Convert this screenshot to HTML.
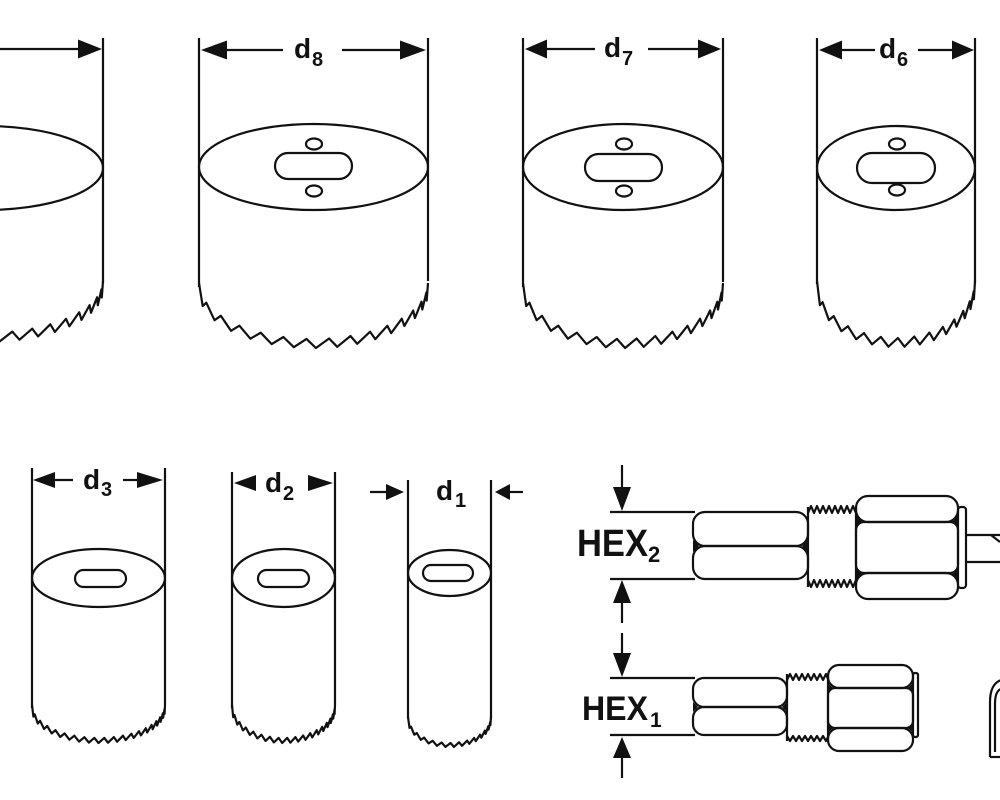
<!DOCTYPE html>
<html><head><meta charset="utf-8"><style>
html,body{margin:0;padding:0;background:#fff;}
svg{display:block;}
text{font-family:"Liberation Sans",sans-serif;font-weight:bold;fill:#111;}
</style></head><body>
<svg id="s" width="1000" height="800" viewBox="0 0 1000 800" xmlns="http://www.w3.org/2000/svg">
<rect width="1000" height="800" fill="#fff"/>
<g stroke="#111" stroke-width="2.2" fill="none" stroke-linejoin="round">
<!-- d9 partial -->
<line x1="103" y1="38" x2="103" y2="283"/>
<ellipse cx="-15" cy="168" rx="118" ry="42"/>
<line x1="0" y1="49" x2="80" y2="49"/>
<!-- d8 -->
<line x1="199" y1="38" x2="199" y2="287"/>
<line x1="428" y1="38" x2="428" y2="281"/>
<ellipse cx="313.5" cy="167" rx="114.5" ry="43"/>
<rect x="275" y="153" width="77" height="26" rx="13"/>
<ellipse cx="314" cy="144" rx="8" ry="5.5"/>
<ellipse cx="314" cy="191" rx="8" ry="5.5"/>
<line x1="226" y1="50" x2="283" y2="50"/>
<line x1="342" y1="50" x2="401" y2="50"/>
<!-- d7 -->
<line x1="523" y1="38" x2="523" y2="287"/>
<line x1="723" y1="38" x2="723" y2="282"/>
<ellipse cx="623" cy="167" rx="100" ry="43"/>
<rect x="585" y="154" width="77" height="27" rx="13.5"/>
<ellipse cx="624" cy="144" rx="8" ry="5.5"/>
<ellipse cx="624" cy="191" rx="8" ry="5.5"/>
<line x1="546" y1="49" x2="595" y2="49"/>
<line x1="648" y1="49" x2="699" y2="49"/>
<!-- d6 -->
<line x1="817" y1="38" x2="817" y2="284"/>
<line x1="975" y1="38" x2="975" y2="283"/>
<ellipse cx="896" cy="168" rx="79" ry="42"/>
<rect x="857" y="153" width="78" height="30" rx="15"/>
<ellipse cx="897" cy="144" rx="8" ry="5.5"/>
<ellipse cx="897" cy="190" rx="8" ry="5.5"/>
<line x1="841" y1="50" x2="875" y2="50"/>
<line x1="918" y1="50" x2="953" y2="50"/>
<!-- d3 -->
<line x1="32" y1="468" x2="32" y2="708"/>
<line x1="165" y1="468" x2="165" y2="705"/>
<ellipse cx="98.5" cy="578" rx="66.5" ry="29"/>
<rect x="75" y="570" width="51" height="17" rx="8.5"/>
<line x1="54" y1="480" x2="73" y2="480"/>
<line x1="123" y1="480" x2="138" y2="480"/>
<!-- d2 -->
<line x1="232" y1="472" x2="232" y2="708"/>
<line x1="335" y1="472" x2="335" y2="705"/>
<ellipse cx="283.5" cy="578" rx="51.5" ry="29"/>
<rect x="258" y="570" width="51" height="17" rx="8.5"/>
<!-- d1 -->
<line x1="408" y1="480" x2="408" y2="718"/>
<line x1="491" y1="480" x2="491" y2="718"/>
<ellipse cx="449.5" cy="573" rx="41.5" ry="23"/>
<rect x="423" y="565" width="50" height="16" rx="8"/>
<line x1="370" y1="492" x2="387" y2="492"/>
<line x1="509" y1="492" x2="523" y2="492"/>

<!-- teeth -->
<path id="t9"/><path id="t8"/><path id="t7"/><path id="t6"/><path id="t3"/><path id="t2"/><path id="t1"/>

<!-- HEX extension lines -->
<line x1="610" y1="512" x2="695" y2="512"/>
<line x1="610" y1="579" x2="695" y2="579"/>
<line x1="610" y1="678" x2="695" y2="678"/>
<line x1="610" y1="735" x2="695" y2="735"/>
<!-- HEX arrows lines -->
<line x1="622" y1="465" x2="622" y2="489"/>
<line x1="622" y1="601" x2="622" y2="623"/>
<line x1="622" y1="633" x2="622" y2="655"/>
<line x1="622" y1="756" x2="622" y2="778"/>

<!-- HEX2 bit -->
<rect x="693" y="512" width="115" height="34" rx="12"/>
<rect x="693" y="546" width="115" height="33" rx="12"/>
<line x1="808" y1="507" x2="808" y2="587"/>
<line x1="856" y1="507" x2="856" y2="587"/>
<polyline points="808,513 811,506 814,513 817,506 820,513 823,506 826,513 829,506 832,513 835,506 838,513 841,506 844,513 847,506 850,513 853,506 856,513"/>
<polyline points="808,580 811,587 814,580 817,587 820,580 823,587 826,580 829,587 832,580 835,587 838,580 841,587 844,580 847,587 850,580 853,587 856,580"/>
<rect x="856" y="496" width="102" height="26" rx="12"/>
<rect x="856" y="522" width="102" height="51" rx="8"/>
<rect x="856" y="573" width="102" height="26" rx="12"/>
<rect x="958" y="507" width="8" height="81" rx="3"/>
<line x1="966" y1="535" x2="1000" y2="535"/>
<line x1="966" y1="562" x2="1000" y2="562"/>
<line x1="991" y1="535" x2="1000" y2="542"/>

<!-- HEX1 bit -->
<rect x="693" y="678" width="94" height="29" rx="11"/>
<rect x="693" y="707" width="94" height="28" rx="11"/>
<line x1="787" y1="674" x2="787" y2="741"/>
<line x1="828" y1="674" x2="828" y2="741"/>
<polyline points="787,680 790,674 793,680 796,674 799,680 802,674 805,680 808,674 811,680 814,674 817,680 820,674 823,680 826,674 828,679"/>
<polyline points="787,736 790,741 793,736 796,741 799,736 802,741 805,736 808,741 811,736 814,741 817,736 820,741 823,736 826,741 828,737"/>
<rect x="828" y="665" width="85" height="23" rx="11"/>
<rect x="828" y="688" width="85" height="40" rx="7"/>
<rect x="828" y="728" width="85" height="23" rx="11"/>
<rect x="913" y="673" width="5" height="64" rx="2"/>

<!-- hook -->
<path d="M990 757 L990 702 Q990 684 1001 680"/>
<path d="M995 752 L995 704 Q995 691 1001 689"/>
<line x1="990" y1="757" x2="1000" y2="757"/>
</g>

<g fill="#111" stroke="none">
<!-- top arrowheads -->
<polygon points="78,39.5 102,49 78,58.5"/>
<polygon points="227,40.5 201,50 227,59.5"/>
<polygon points="400,40.5 426,50 400,59.5"/>
<polygon points="547,39.5 525,49 547,58.5"/>
<polygon points="698,39.5 721,49 698,58.5"/>
<polygon points="842,40.5 819,50 842,59.5"/>
<polygon points="952,40.5 974,50 952,59.5"/>
<!-- bottom dims -->
<polygon points="55,472 33,480 55,488"/>
<polygon points="137,472 163,480 137,488"/>
<polygon points="256,475 234,483 256,491"/>
<polygon points="308,475 333,483 308,491"/>
<polygon points="386,484 404,492 386,500"/>
<polygon points="510,484 495,492 510,500"/>
<!-- HEX arrowheads -->
<polygon points="613,487 631,487 622,511"/>
<polygon points="613,603 631,603 622,580"/>
<polygon points="613,653 631,653 622,677"/>
<polygon points="613,758 631,758 622,737"/>
<!-- notch triangles -->
<polygon points="693,540 699,546 693,552"/>
<polygon points="808,540 802,546 808,552"/>
<polygon points="856,516 862,522 856,528"/>
<polygon points="958,516 952,522 958,528"/>
<polygon points="856,567 862,573 856,579"/>
<polygon points="958,567 952,573 958,579"/>
<polygon points="693,702 698,707 693,712"/>
<polygon points="787,702 782,707 787,712"/>
<polygon points="828,683 833,688 828,693"/>
<polygon points="913,683 908,688 913,693"/>
<polygon points="828,723 833,728 828,733"/>
<polygon points="913,723 908,728 913,733"/>
</g>

<!-- labels -->
<text x="294" y="58" font-size="28">d</text><text x="312" y="66" font-size="20">8</text>
<text x="604" y="57" font-size="28">d</text><text x="622" y="65" font-size="20">7</text>
<text x="879" y="58" font-size="28">d</text><text x="897" y="66" font-size="20">6</text>
<text x="83" y="489" font-size="28">d</text><text x="101" y="496" font-size="20">3</text>
<text x="265" y="492" font-size="28">d</text><text x="283" y="500" font-size="20">2</text>
<text x="436" y="500" font-size="28">d</text><text x="455" y="507" font-size="20">1</text>
<text x="577" y="556" font-size="38" textLength="71" lengthAdjust="spacingAndGlyphs">HEX</text><text x="648" y="562" font-size="22">2</text>
<text x="582" y="720" font-size="34" textLength="66" lengthAdjust="spacingAndGlyphs">HEX</text><text x="650" y="727" font-size="21">1</text>
</svg>
<script>
function teeth(id,cx,rx,yt,ry,n,h){
  function P(u){var t=Math.PI*Math.pow(u,0.8);return [cx-rx*Math.cos(t), yt+ry*Math.sin(t)];}
  var d='';
  var start=P(0);
  d='M'+start[0].toFixed(1)+','+(start[1]-h).toFixed(1);
  for(var i=0;i<n;i++){
    var u0=i/n,u1=(i+1)/n;
    var frac=0.65*(1-u0)+0.05*u0;
    var um=u0+frac*(u1-u0);
    var v=P(um);
    var tp=P(u1);
    d+='L'+v[0].toFixed(1)+','+v[1].toFixed(1);
    d+='L'+tp[0].toFixed(1)+','+(tp[1]-h).toFixed(1);
  }
  document.getElementById(id).setAttribute('d',d);
}
teeth('t9',-15,118,290,52,16,9);
teeth('t8',313.5,114.5,292,56,15,9);
teeth('t7',623,100,292,56,15,9);
teeth('t6',896,79,290,57,14,9);
teeth('t3',98.5,66.5,710,33,20,5);
teeth('t2',283.5,51.5,710,33,18,5);
teeth('t1',449.5,41.5,721,26,14,4);
</script>
</body></html>
